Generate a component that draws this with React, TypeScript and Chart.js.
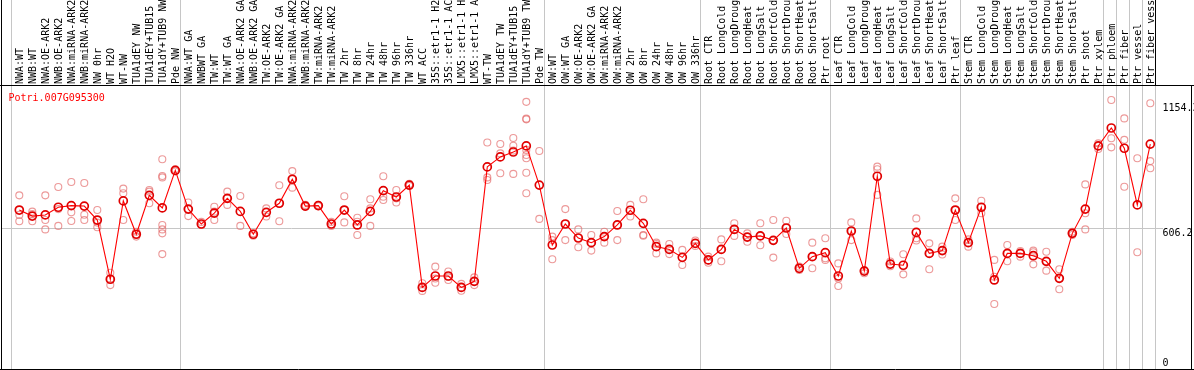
import React, { useEffect, useRef } from "react";
import { Chart, registerables } from "chart.js";

Chart.register(...registerables);

const geneId = "Potri.007G095300";

const categories = [
  "NWA:WT", "NWB:WT", "NWA:OE-ARK2", "NWB:OE-ARK2", "NWA:miRNA-ARK2", "NWB:miRNA-ARK2",
  "NW 0hr", "WT H2O", "WT-NW", "TUA1dEY NW", "TUA1dEY+TUB15 NW", "TUA1dY+TUB9 NW", "Pde NW",
  "NWA:WT GA", "NWBWT GA", "TW:WT", "TW:WT GA", "NWA:OE-ARK2 GA", "NWB:OE-ARK2 GA",
  "TW:OE-ARK2", "TW:OE-ARK2 GA", "NWA:miRNA-ARK2 GA", "NWB:miRNA-ARK2 GA", "TW:miRNA-ARK2",
  "TW:miRNA-ARK2 GA", "TW 2hr", "TW 8hr", "TW 24hr", "TW 48hr", "TW 96hr", "TW 336hr",
  "WT ACC", "35S::etr1-1 H2O", "35S::etr1-1 ACC", "LMX5::etr1-1 H2O", "LMX5::etr1-1 ACC",
  "WT-TW", "TUA1dEY TW", "TUA1dEY+TUB15 TW", "TUA1dY+TUB9 TW", "Pde TW",
  "OW:WT", "OW:WT GA", "OW:OE-ARK2", "OW:OE-ARK2 GA", "OW:miRNA-ARK2", "OW:miRNA-ARK2 GA",
  "OW 2hr", "OW 8hr", "OW 24hr", "OW 48hr", "OW 96hr", "OW 336hr",
  "Root CTR", "Root LongCold", "Root LongDrought", "Root LongHeat", "Root LongSalt",
  "Root ShortCold", "Root ShortDrought", "Root ShortHeat", "Root ShortSalt", "Ptr root",
  "Leaf CTR", "Leaf LongCold", "Leaf LongDrought", "Leaf LongHeat", "Leaf LongSalt",
  "Leaf ShortCold", "Leaf ShortDrought", "Leaf ShortHeat", "Leaf ShortSalt", "Ptr leaf",
  "Stem CTR", "Stem LongCold", "Stem LongDrought", "Stem LongHeat", "Stem LongSalt",
  "Stem ShortCold", "Stem ShortDrought", "Stem ShortHeat", "Stem ShortSalt",
  "Ptr shoot", "Ptr xylem", "Ptr phloem", "Ptr fiber", "Ptr vessel", "Ptr fiber vessel",
];

// index of the first category of each group (last entry = end)
const groupStarts = [0, 13, 41, 53, 63, 73, 84, 85, 86, 87, 88];

const meanValues = [
  682, 656, 661, 694, 701, 699, 639, 385, 721, 578,
  745, 691, 852, 686, 622, 669, 732, 676, 578, 672,
  711, 814, 699, 701, 622, 682, 618, 676, 765, 738,
  789, 350, 399, 399, 350, 376, 867, 910, 931, 957,
  789, 532, 622, 562, 542, 568, 618, 681, 625, 525,
  513, 479, 539, 468, 513, 599, 566, 571, 552, 605,
  432, 482, 499, 399, 592, 420, 827, 450, 445, 586,
  496, 508, 682, 542, 694, 382, 496, 496, 486, 462,
  389, 582, 686, 957, 1034, 947, 704, 965,
];

const replicateValues = [
  [745, 661, 634], [675, 665, 634], [745, 639, 599], [781, 686, 614], [802, 672, 635],
  [798, 662, 639], [682, 628, 608], [413, 385, 360], [774, 754, 639], [589, 578, 568],
  [768, 761, 711], [900, 828, 822, 618, 599, 582, 493], [857, 848], [714, 686, 656], [631, 619],
  [696, 675, 639], [761, 732, 704], [742, 614], [582, 572], [689, 654],
  [788, 711, 634], [849, 814, 778], [704, 696], [704, 698], [631, 614],
  [741, 682, 629], [649, 632, 575], [728, 689, 614], [827, 739, 725], [768, 732, 714],
  [794, 785], [368, 350, 335], [439, 388, 370], [418, 396, 382], [365, 350, 336],
  [393, 375, 360], [972, 822, 811], [965, 925, 840], [991, 958, 937, 837],
  [1146, 1074, 1071, 940, 918, 904, 842, 754],
  [935, 644], [568, 553, 471], [686, 622, 553], [599, 562, 522], [575, 542, 508],
  [589, 568, 542], [678, 618, 553], [704, 654], [728, 575, 572], [542, 536, 496],
  [536, 513, 493], [511, 446], [551, 528], [482, 465, 456], [556, 513, 462],
  [625, 599, 571], [582, 566, 546], [625, 571, 531], [639, 552, 478], [636, 605, 579],
  [439, 425], [542, 482, 432], [561, 475, 468], [453, 388, 356], [629, 592, 553],
  [425, 411], [868, 857, 747], [461, 441], [492, 406], [646, 561, 551],
  [539, 496, 428], [525, 508, 491], [732, 682, 639], [556, 542, 525], [722, 694, 668],
  [468, 396, 279], [532, 496, 462], [506, 496, 482], [508, 501, 449], [503, 462, 422],
  [428, 389, 342], [589, 582, 575], [792, 668, 599], [968, 957, 944], [1154.3, 990, 951],
  [1075, 983, 782], [904, 501], [1140, 892, 861],
];

const yTickValues = [0, 606.2, 1154.3];
const yTickLabels = ["0", "606.2", "1154.3"];

const FONT = '10px "DejaVu Sans Mono", "Liberation Mono", monospace';
const PX_PER_CAT = 13;
const CHART_W = 1194;
const CHART_H = 370;
const PAD = { left: 1, right: 2, top: 86, bottom: 1 };
const AREA_W = CHART_W - PAD.left - PAD.right;
const X_MIN = -(19.3 - PAD.left) / PX_PER_CAT;
const X_MAX = X_MIN + AREA_W / PX_PER_CAT;
const Y_MAX = 1214.1;
const BOUNDARY_SHIFT = 0.638;

const decorPlugin = {
  id: "decor",
  beforeDatasetsDraw(chart: any) {
    const { ctx, chartArea, scales } = chart;
    const xs = scales.x;
    const ys = scales.y;
    ctx.save();
    ctx.lineWidth = 1;
    ctx.strokeStyle = "#c6c6c6";
    // horizontal reference line
    const hy = Math.round(ys.getPixelForValue(yTickValues[1])) + 0.5;
    ctx.beginPath();
    ctx.moveTo(chartArea.left, hy);
    ctx.lineTo(1163, hy);
    ctx.stroke();
    // group separators
    groupStarts.forEach((s, k) => {
      const px = Math.floor(xs.getPixelForValue(s - BOUNDARY_SHIFT)) + 0.5;
      ctx.strokeStyle = "#c6c6c6";
      ctx.beginPath();
      ctx.moveTo(px, k === groupStarts.length - 1 ? chartArea.top : 0);
      ctx.lineTo(px, chartArea.bottom);
      ctx.stroke();
      if (k === groupStarts.length - 1) {
        ctx.strokeStyle = "#000";
        ctx.beginPath();
        ctx.moveTo(px, 0);
        ctx.lineTo(px, chartArea.top);
        ctx.stroke();
      }
    });
    ctx.restore();
  },
  afterDraw(chart: any) {
    const { ctx, chartArea, scales } = chart;
    const xs = scales.x;
    const ys = scales.y;
    ctx.save();
    // frame
    ctx.strokeStyle = "#000";
    ctx.lineWidth = 1;
    ctx.beginPath();
    ctx.moveTo(0, chartArea.top - 0.5);
    ctx.lineTo(CHART_W, chartArea.top - 0.5);
    ctx.moveTo(1.5, 0);
    ctx.lineTo(1.5, CHART_H);
    ctx.moveTo(0, chartArea.bottom + 0.5);
    ctx.lineTo(CHART_W, chartArea.bottom + 0.5);
    ctx.moveTo(chartArea.right - 0.5, chartArea.top);
    ctx.lineTo(chartArea.right - 0.5, CHART_H);
    ctx.stroke();

    ctx.font = FONT;
    // category labels (rotated)
    ctx.fillStyle = "#000";
    ctx.textAlign = "left";
    ctx.textBaseline = "alphabetic";
    categories.forEach((label, i) => {
      const px = xs.getPixelForValue(i);
      ctx.save();
      ctx.translate(px + 3.6, chartArea.top - 2);
      ctx.rotate(-Math.PI / 2);
      ctx.fillText(label, 0, 0);
      ctx.restore();
    });

    // y labels
    yTickValues.forEach((v, k) => {
      const py = ys.getPixelForValue(v);
      const base = Math.min(Math.max(py + 8, chartArea.top + 24.5), chartArea.bottom - 3.5);
      ctx.fillText(yTickLabels[k], 1162.5, base);
    });

    // title
    ctx.fillStyle = "#ff0000";
    ctx.fillText(geneId, 8.5, chartArea.top + 14.6);
    ctx.restore();
  },
};

export default function App() {
  const canvasRef = useRef<HTMLCanvasElement | null>(null);

  useEffect(() => {
    document.body.style.margin = "0";
    document.body.style.overflow = "hidden";
    const canvas = canvasRef.current;
    if (!canvas) return;
    const meanPoints = meanValues.map((v, i) => ({ x: i, y: v }));
    const repPoints = replicateValues.flatMap((arr, i) => arr.map((v) => ({ x: i, y: v })));
    const chart = new Chart(canvas, {
      type: "scatter",
      data: {
        datasets: [
          {
            label: "mean",
            data: meanPoints,
            showLine: true,
            borderColor: "#ff0000",
            borderWidth: 1.1,
            pointRadius: 4,
            pointBorderWidth: 1.7,
            pointBorderColor: "#e00000",
            pointBackgroundColor: "rgba(0,0,0,0)",
            tension: 0,
            order: 0,
          } as any,
          {
            label: "replicates",
            data: repPoints,
            showLine: false,
            pointRadius: 3.5,
            pointBorderWidth: 1.1,
            pointBorderColor: "rgba(228, 110, 110, 0.7)",
            pointBackgroundColor: "rgba(0,0,0,0)",
            order: 1,
          } as any,
        ],
      },
      options: {
        animation: false,
        responsive: false,
        maintainAspectRatio: false,
        devicePixelRatio: 1,
        layout: { padding: PAD, autoPadding: false },
        scales: {
          x: { type: "linear", display: false, min: X_MIN, max: X_MAX },
          y: { type: "linear", display: false, min: 0, max: Y_MAX },
        },
        plugins: {
          legend: { display: false },
          tooltip: { enabled: false },
        },
      },
      plugins: [decorPlugin],
    });
    return () => chart.destroy();
  }, []);

  return (
    <div style={{ width: CHART_W, height: CHART_H, background: "#fff" }}>
      <canvas ref={canvasRef} width={CHART_W} height={CHART_H} style={{ display: "block" }} />
    </div>
  );
}
